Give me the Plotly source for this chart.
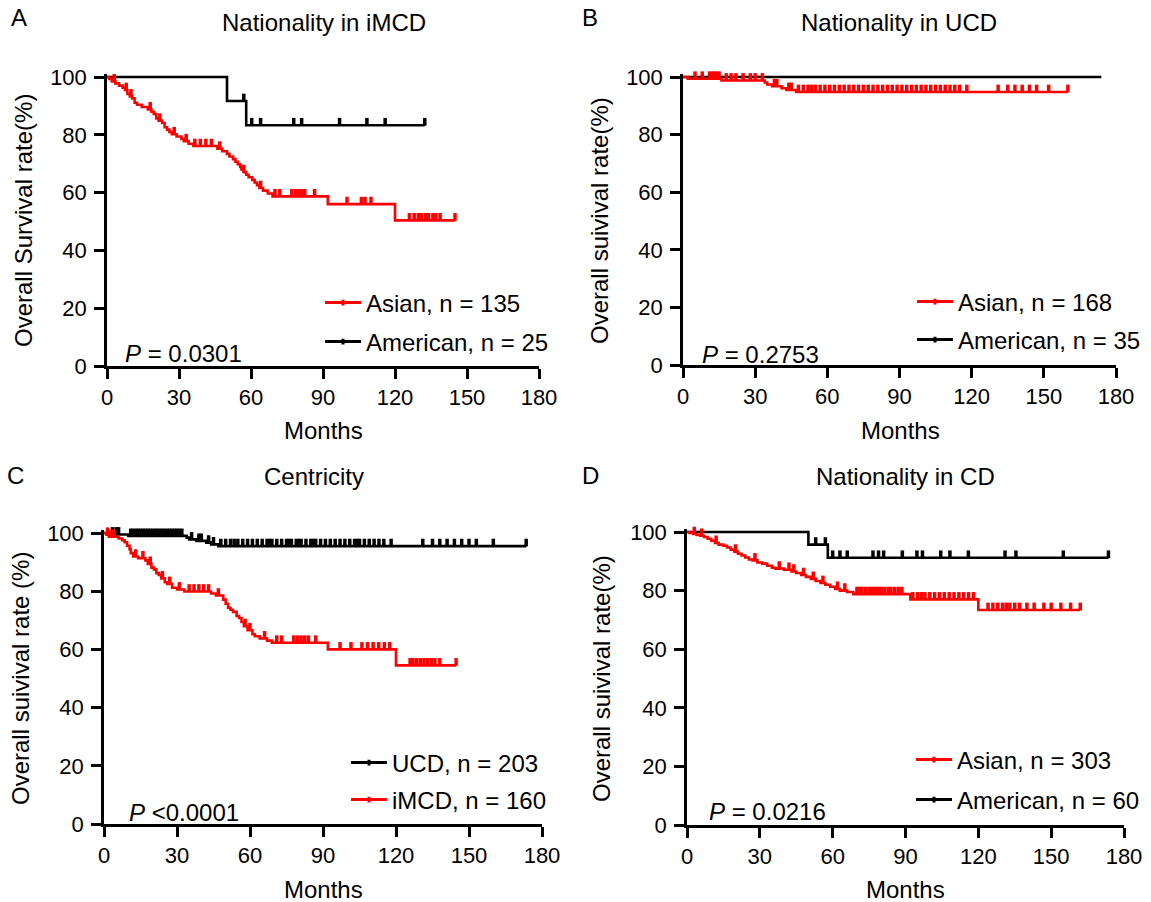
import plotly.graph_objects as go

W, H = 1151, 902
FONT = "Liberation Sans, Arial, sans-serif"
RED = "#FF0000"
BLACK = "#000000"

# ---------------- Data ----------------
x_ticks = [0, 30, 60, 90, 120, 150, 180]
y_ticks = [0, 20, 40, 60, 80, 100]

# Panel A: Nationality in iMCD
A_asian_event_t = [1, 2, 3.5, 5, 6.5, 7.5, 8.5, 9.5, 10.5, 11.5, 12.5, 14.5, 17, 18.5, 19.5, 20.5,
                   21.5, 23, 24, 25, 26, 27, 29, 31, 32, 34, 36, 46, 48, 50, 51, 52.5, 53.5, 54.5,
                   55.5, 56, 57, 58, 59, 60.5, 61.5, 62.5, 63.5, 65, 67, 69, 92, 120]
A_asian_event_s = [99.3, 98.5, 97.8, 97.0, 96.3, 95.5, 94.1, 93.3, 92.6, 91.1, 90.4, 89.6, 88.8, 88.0,
                   87.2, 85.7, 84.9, 84.1, 82.6, 81.8, 81.0, 80.2, 79.4, 78.6, 77.8, 76.9, 76.1, 75.2,
                   74.3, 73.4, 72.5, 71.6, 70.7, 69.8, 68.9, 68.0, 67.1, 66.2, 65.3, 64.4, 63.5, 62.6,
                   61.6, 60.7, 59.7, 58.7, 56.0, 50.4]
A_asian_censor_t = [3, 8, 10, 18, 22, 28, 33, 36.6, 38.9, 41.2, 43.5, 47, 57, 64, 70, 72, 77, 78.6, 80,
                    81.3, 82.4, 86.5, 100, 106, 107.5, 110, 126, 128, 129.7, 131, 132.7, 134, 135.8,
                    137, 138.8, 145]
A_american_event_t = [50, 58]
A_american_event_s = [91.7, 83.3]
A_american_censor_t = [7.6, 13, 17.5, 19, 21.4, 24, 38, 39.4, 40.6, 49, 57, 60.3, 64, 77.8, 81.1,
                       96.9, 108.3, 115.9, 132.4]

# Panel B: Nationality in UCD
B_asian_event_t = [2, 16, 34, 35, 37, 41, 43, 47]
B_asian_event_s = [99.4, 98.8, 98.1, 97.4, 96.8, 96.1, 95.5, 94.8]
B_asian_censor_t = [1, 5, 8, 11, 12, 13, 14, 15, 18, 20, 22, 25, 28, 30, 33, 38, 39, 44, 45,
                    48, 50, 52, 53.5, 55, 57, 59, 61, 63, 65, 67, 69, 71, 73, 75, 77, 79, 81, 83, 85,
                    87, 89, 91, 93, 95, 97, 99, 101, 103, 105, 107, 109, 111, 113, 115, 118, 131, 135,
                    138, 141, 144, 147, 152, 160]
B_american_event_t = []
B_american_event_s = []
B_american_censor_t = [0.5, 1.2, 2, 10.4, 12, 13.5, 17.3, 18.9, 22, 25, 31, 35, 39.6, 45.7, 53.4,
                       67.2, 68, 75.6, 79.5, 88.7, 94.8, 104, 130.9, 135.5, 155.4, 173.9]

# Panel C: Centricity
C_ucd_event_t = [3, 10, 34, 35, 38, 42, 44, 47]
C_ucd_event_s = [99.5, 99.0, 98.4, 97.8, 97.3, 96.7, 96.1, 95.5]
C_ucd_censor_t = [0.5, 1, 2, 3.5, 5, 6, 11, 12, 13, 14, 15, 16, 17, 18, 19, 20, 21, 22, 23, 24, 25,
                  26, 27, 28, 29, 30, 31, 32, 36, 39, 40, 43, 45, 48, 50, 52, 53.5, 55, 57, 59, 61,
                  63, 65, 67, 68, 69, 71, 73, 75, 76, 77, 79, 80, 81, 83, 85, 86, 87, 89, 91, 93,
                  95, 97, 99, 101, 103, 104, 105, 107, 109, 111, 113, 115, 118, 131, 135, 138, 141,
                  144, 147, 150, 153, 160, 173.5]
C_imcd_event_t = [1, 2, 6, 7.5, 8.5, 9.5, 10.5, 11, 12, 14, 17, 18, 19.5, 20.5, 21.5, 22.5, 23.5,
                  25, 26, 28, 30, 33, 44, 46, 49, 50, 51, 52, 53, 54.5, 55.5, 56.5, 57.5, 59, 61,
                  62, 64, 67, 69, 92, 120]
C_imcd_event_s = [99.4, 98.7, 98.1, 97.5, 96.8, 95.6, 94.4, 93.1, 91.9, 91.3, 90.6, 89.4, 88.1,
                  87.5, 86.2, 85.6, 84.4, 83.1, 82.5, 81.2, 80.6, 79.9, 79.2, 78.5, 77.1, 75.7,
                  74.3, 73.6, 72.9, 71.5, 70.8, 69.4, 68.0, 66.6, 65.2, 64.5, 63.8, 63.0, 62.3,
                  60.0, 54.5]
C_imcd_censor_t = [1.5, 3, 4, 13, 16, 19, 24, 27, 31, 35, 37, 39, 41, 43, 47, 58, 60, 66, 71, 73,
                   78, 79.5, 81, 82.5, 84, 87, 97, 101.5, 106, 108.3, 110.6, 112.9, 115.2, 117.4,
                   125.8, 127, 128.5, 130, 131.5, 133, 134.5, 136, 138, 144.7]

# Panel D: Nationality in CD
D_asian_event_t = [1, 2.5, 4, 5.5, 7, 8.5, 10, 11.5, 13, 15, 16.5, 18, 19.5, 21, 22.5, 24, 25.5,
                   27, 29, 31, 33, 35, 36.5, 40, 43, 45, 47, 49, 51, 53, 55, 57, 59, 61, 63, 66,
                   68.5, 92, 120]
D_asian_event_s = [99.7, 99.3, 99.0, 98.7, 98.3, 97.7, 97.0, 96.3, 95.7, 95.3, 94.7, 94.0, 93.3,
                   92.6, 92.0, 91.3, 90.6, 90.3, 89.6, 89.2, 88.5, 87.8, 87.5, 87.1, 86.5, 86.0,
                   85.3, 84.7, 84.0, 83.3, 82.6, 82.0, 81.3, 80.6, 80.0, 79.5, 78.8, 77.0, 73.4]
D_asian_censor_t = [3, 6, 12, 20, 28, 38, 42, 44, 48, 52, 56, 62, 65, 70, 71, 72, 73.5, 75, 76,
                    77, 78, 79, 80, 81.5, 83, 84, 85.5, 87, 88.5, 93, 95, 96.5, 98, 100, 102, 104,
                    106, 108, 110, 112, 114, 116, 118, 124, 126, 128, 130, 131.5, 133, 135, 137,
                    140, 143, 147, 150, 154, 158, 162]
D_american_event_t = [50, 58]
D_american_event_s = [95.7, 91.2]
D_american_censor_t = [1.8, 2.6, 8, 9, 10, 11, 12, 13, 14, 17, 18, 19.5, 21, 23.7, 30.5, 32, 34.3,
                       36.6, 38, 39.5, 40.5, 41.9, 45.6, 49.4, 53, 57, 60, 63, 66, 76.6, 78.9, 81,
                       88.7, 94.7, 97, 104.5, 108.3, 115.9, 131, 135.5, 155, 173.6]

# ---------------- Layout helpers (pixel placement) ----------------
def px(x):
    return x / W


def py(y):
    return 1 - y / H


def surv_at(t, ev_t, ev_s):
    s = 100.0
    for et, es in zip(ev_t, ev_s):
        if et <= t:
            s = es
    return s


panels = [
    dict(ax="", box=(107, 539, 77, 366), title="Nationality in iMCD", title_xy=(324, 22),
         letter="A", letter_xy=(19, 18), ytitle="Overall Survival rate(%)", ytitle_xy=(23, 221),
         months_xy=(323, 431), ptext="<i>P</i> = 0.0301", p_xy=(123, 353),
         curves=[
             dict(name="American, n = 25", color=BLACK, et=A_american_event_t, es=A_american_event_s,
                  ct=A_american_censor_t, leg=(324, 342)),
             dict(name="Asian, n = 135", color=RED, et=A_asian_event_t, es=A_asian_event_s,
                  ct=A_asian_censor_t, leg=(324, 303)),
         ]),
    dict(ax="2", box=(683, 1116, 77, 365), title="Nationality in UCD", title_xy=(899, 22),
         letter="B", letter_xy=(590, 18), ytitle="Overall suivival rate(%)", ytitle_xy=(599, 221),
         months_xy=(900, 431), ptext="<i>P</i> = 0.2753", p_xy=(700, 354),
         curves=[
             dict(name="American, n = 35", color=BLACK, et=B_american_event_t, es=B_american_event_s,
                  ct=B_american_censor_t, leg=(916, 340)),
             dict(name="Asian, n = 168", color=RED, et=B_asian_event_t, es=B_asian_event_s,
                  ct=B_asian_censor_t, leg=(916, 302)),
         ]),
    dict(ax="3", box=(104, 542, 533, 824), title="Centricity", title_xy=(314, 476),
         letter="C", letter_xy=(16, 475), ytitle="Overall suivival rate (%)", ytitle_xy=(20, 679),
         months_xy=(323, 889), ptext="<i>P</i> &lt;0.0001", p_xy=(127, 812),
         curves=[
             dict(name="UCD, n = 203", color=BLACK, et=C_ucd_event_t, es=C_ucd_event_s,
                  ct=C_ucd_censor_t, leg=(350, 763)),
             dict(name="iMCD, n = 160", color=RED, et=C_imcd_event_t, es=C_imcd_event_s,
                  ct=C_imcd_censor_t, leg=(350, 800)),
         ]),
    dict(ax="4", box=(687, 1124, 532, 825), title="Nationality in CD", title_xy=(905, 476),
         letter="D", letter_xy=(590, 475), ytitle="Overall suivival rate(%)", ytitle_xy=(601, 678),
         months_xy=(905, 889), ptext="<i>P</i> = 0.0216", p_xy=(707, 811),
         curves=[
             dict(name="American, n = 60", color=BLACK, et=D_american_event_t, es=D_american_event_s,
                  ct=D_american_censor_t, leg=(915, 800)),
             dict(name="Asian, n = 303", color=RED, et=D_asian_event_t, es=D_asian_event_s,
                  ct=D_asian_censor_t, leg=(915, 760)),
         ]),
]

fig = go.Figure()
layout = dict(width=W, height=H, margin=dict(l=0, r=0, t=0, b=0, autoexpand=False),
              paper_bgcolor="white", plot_bgcolor="white",
              font=dict(family=FONT, color="black", size=24), annotations=[])

axis_common = dict(showline=True, linecolor="black", linewidth=2.5, ticks="outside", ticklen=10,
                   tickwidth=2.5, tickcolor="black", showgrid=False, zeroline=False,
                   tickfont=dict(family=FONT, size=22, color="black"), fixedrange=True)

Y_HEAD = 1.0  # small headroom above 100 % so the line drawn at 100 is not clipped

leg_idx = 0
for p in panels:
    x0, x1, y0, y1 = p["box"]
    xa = "x" + p["ax"]
    ya = "y" + p["ax"]
    ppu = (y1 - y0) / 100.0
    top = y0 - Y_HEAD * ppu
    layout["xaxis" + p["ax"]] = dict(axis_common, domain=[px(x0), px(x1)], range=[0, 180],
                                     tickvals=x_ticks, anchor=ya, ticklabelstandoff=0)
    layout["yaxis" + p["ax"]] = dict(axis_common, domain=[py(y1), py(top)], range=[0, 100 + Y_HEAD],
                                     tickvals=y_ticks, anchor=xa, ticklabelstandoff=3)
    off = 3.5 / ppu  # lift censor ticks ~3.5 px so they sit above the line
    for c in p["curves"]:
        end = max(c["ct"] + c["et"])
        xs = [0] + list(c["et"]) + [end]
        ys = [100] + list(c["es"]) + [c["es"][-1] if c["es"] else 100]
        fig.add_trace(go.Scatter(x=xs, y=ys, mode="lines", line=dict(color=c["color"], width=2.6, shape="hv"),
                                 xaxis=xa, yaxis=ya, showlegend=False, cliponaxis=False, hoverinfo="skip"))
        cy = [surv_at(t, c["et"], c["es"]) + off for t in c["ct"]]
        fig.add_trace(go.Scatter(x=c["ct"], y=cy, mode="markers",
                                 marker=dict(symbol="line-ns", size=5.5, color=c["color"],
                                             line=dict(width=3.5, color=c["color"])),
                                 xaxis=xa, yaxis=ya, showlegend=False, cliponaxis=False, hoverinfo="skip"))
    # legend entries (one legend per entry so each can be placed precisely)
    for c in p["curves"]:
        leg_idx += 1
        lname = "legend" if leg_idx == 1 else "legend%d" % leg_idx
        fig.add_trace(go.Scatter(x=[None], y=[None], mode="lines+markers", name=c["name"],
                                 line=dict(color=c["color"], width=3),
                                 marker=dict(symbol="line-ns", size=4, color=c["color"],
                                             line=dict(width=3, color=c["color"])),
                                 xaxis=xa, yaxis=ya, showlegend=True, legend=lname))
        lx, ly = c["leg"]
        layout[lname] = dict(x=px(lx - 4), y=py(ly), xanchor="left", yanchor="middle",
                             xref="container", yref="container",
                             bgcolor="rgba(0,0,0,0)", borderwidth=0, itemwidth=36,
                             font=dict(family=FONT, size=24, color="black"))
    ann = layout["annotations"]
    ann.append(dict(text=p["title"], x=px(p["title_xy"][0]), y=py(p["title_xy"][1]), xref="paper",
                    yref="paper", xanchor="center", yanchor="middle", showarrow=False,
                    font=dict(size=24)))
    ann.append(dict(text=p["letter"], x=px(p["letter_xy"][0]), y=py(p["letter_xy"][1]), xref="paper",
                    yref="paper", xanchor="center", yanchor="middle", showarrow=False,
                    font=dict(size=24)))
    ann.append(dict(text=p["ytitle"], x=px(p["ytitle_xy"][0]), y=py(p["ytitle_xy"][1]), xref="paper",
                    yref="paper", xanchor="center", yanchor="middle", showarrow=False, textangle=-90,
                    font=dict(size=24)))
    ann.append(dict(text="Months", x=px(p["months_xy"][0]), y=py(p["months_xy"][1]), xref="paper",
                    yref="paper", xanchor="center", yanchor="middle", showarrow=False,
                    font=dict(size=24)))
    ann.append(dict(text=p["ptext"], x=px(p["p_xy"][0]), y=py(p["p_xy"][1]), xref="paper",
                    yref="paper", xanchor="left", yanchor="middle", showarrow=False,
                    font=dict(size=24)))

fig.update_layout(**layout)
fig.write_html("out.html")
